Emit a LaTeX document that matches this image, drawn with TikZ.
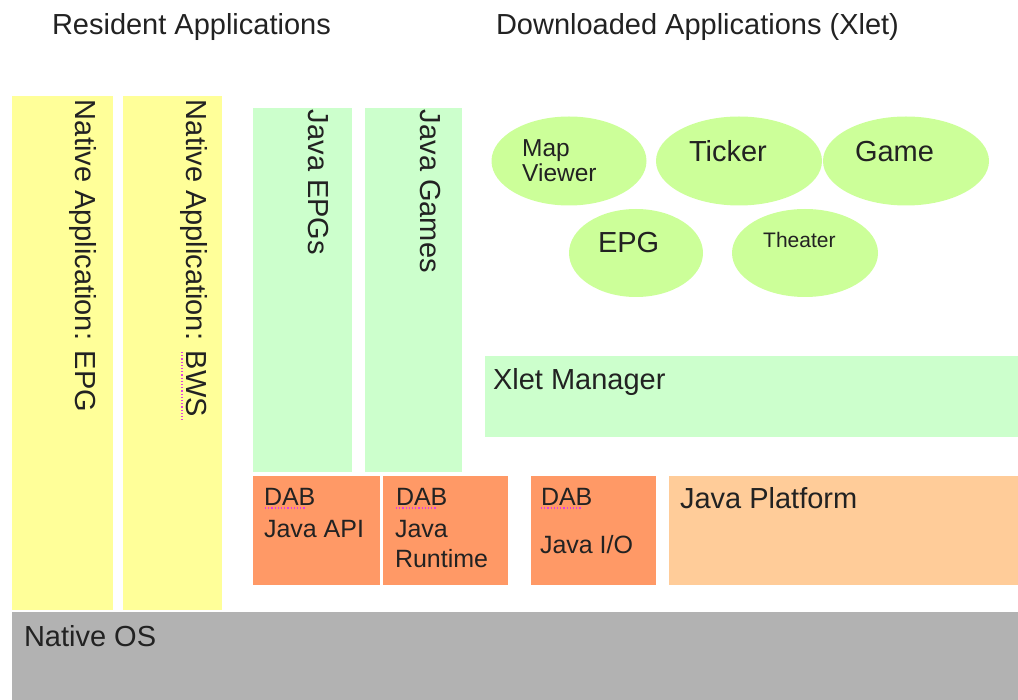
\documentclass[tikz,border=0pt]{standalone}
\usepackage{fontspec}
\setmainfont{Liberation Sans}
\usetikzlibrary{shapes.geometric}
\definecolor{natyellow}{HTML}{FFFF99}
\definecolor{javagreen}{HTML}{CCFFCC}
\definecolor{xletgreen}{HTML}{CCFF99}
\definecolor{dabor}{HTML}{FF9966}
\definecolor{platform}{HTML}{FFCC99}
\definecolor{osgray}{HTML}{B2B2B2}
\definecolor{txt}{HTML}{222222}
\definecolor{spell}{HTML}{E040E0}
\tikzset{
  box/.style={draw=none, inner sep=0pt, outer sep=0pt, anchor=north west},
  xlet/.style={ellipse, draw=none, fill=xletgreen, inner sep=0pt, outer sep=0pt},
  big/.style={font=\fontsize{29}{33}\selectfont, text=txt, inner sep=0pt, outer sep=0pt, anchor=base west},
  mid/.style={font=\fontsize{25}{29}\selectfont, text=txt, inner sep=0pt, outer sep=0pt, anchor=base west},
  vert/.style={big, rotate=-90},
  spellmark/.style={spell, line width=1.2pt, dotted},
}
\begin{document}
\begin{tikzpicture}[x=1pt, y=-1pt]
\useasboundingbox (0,0) rectangle (1018,700);
% titles
\node[big] (tres) at (52,35) {Resident Applications};
\node[big] (tdown) at (496,35) {Downloaded Applications (Xlet)};
% native apps
\node[box, fill=natyellow, minimum width=101pt, minimum height=514pt] (nepg) at (12,96) {};
\node[box, fill=natyellow, minimum width=99pt, minimum height=514pt] (nbws) at (123,96) {};
\node[vert] (tnepg) at (75,100) {Native Application: EPG};
\node[vert] (tnbws) at (186,100) {Native Application: BWS};
% java apps
\node[box, fill=javagreen, minimum width=99pt, minimum height=364pt] (jepg) at (253,108) {};
\node[box, fill=javagreen, minimum width=97pt, minimum height=364pt] (jgam) at (365,108) {};
\node[vert] (tjepg) at (308,110) {Java EPGs};
\node[vert] (tjgam) at (420,110) {Java Games};
% xlets
\node[xlet, minimum width=155pt, minimum height=89pt] (emap) at (569,161) {};
\node[xlet, minimum width=166pt, minimum height=89pt] (etick) at (739,161) {};
\node[xlet, minimum width=166pt, minimum height=89pt] (egame) at (906,161) {};
\node[xlet, minimum width=134pt, minimum height=88pt] (eepg) at (636,253) {};
\node[xlet, minimum width=146pt, minimum height=88pt] (etheat) at (805,253) {};
\node[font=\fontsize{24.5}{25}\selectfont, text=txt, inner sep=0pt, anchor=base west] (tmap1) at (522,157) {Map};
\node[font=\fontsize{24.5}{25}\selectfont, text=txt, inner sep=0pt, anchor=base west] (tmap2) at (522,182) {Viewer};
\node[big] (ttick) at (689,162) {Ticker};
\node[big] (tgame) at (855,162) {Game};
\node[big] (tepg) at (598,253) {EPG};
\node[font=\fontsize{21}{24}\selectfont, text=txt, inner sep=0pt, anchor=base west] (ttheat) at (763,248) {Theater};
% xlet manager
\node[box, fill=javagreen, minimum width=533pt, minimum height=81pt] (xman) at (485,356) {};
\node[big] (txman) at (493,390) {Xlet Manager};
% DAB layer
\node[box, fill=dabor, minimum width=127pt, minimum height=109pt] (dapi) at (253,476) {};
\node[box, fill=dabor, minimum width=125pt, minimum height=109pt] (drun) at (383,476) {};
\node[box, fill=dabor, minimum width=125pt, minimum height=109pt] (dio) at (531,476) {};
\node[box, fill=platform, minimum width=349pt, minimum height=109pt] (jplat) at (669,476) {};
\node[mid] (tdapi1) at (264,505) {DAB};
\node[mid] (tdapi2) at (264,537) {Java API};
\node[mid] (tdrun1) at (396,505) {DAB};
\node[mid] (tdrun2) at (395,537) {Java};
\node[mid] (tdrun3) at (395,567) {Runtime};
\node[mid] (tdio1) at (541,505) {DAB};
\node[mid] (tdio2) at (540,553) {Java I/O};
\node[big] (tjplat) at (680,509) {Java Platform};
% native OS
\node[box, fill=osgray, minimum width=1006pt, minimum height=88pt] (nos) at (12,612) {};
\node[big] (tnos) at (24,646) {Native OS};
% spell-check marks
\draw[spellmark] (182,352) -- (182,420);
\draw[spellmark] (265,508) -- (305,508);
\draw[spellmark] (396,508) -- (436,508);
\draw[spellmark] (541,508) -- (581,508);
\end{tikzpicture}
\end{document}
